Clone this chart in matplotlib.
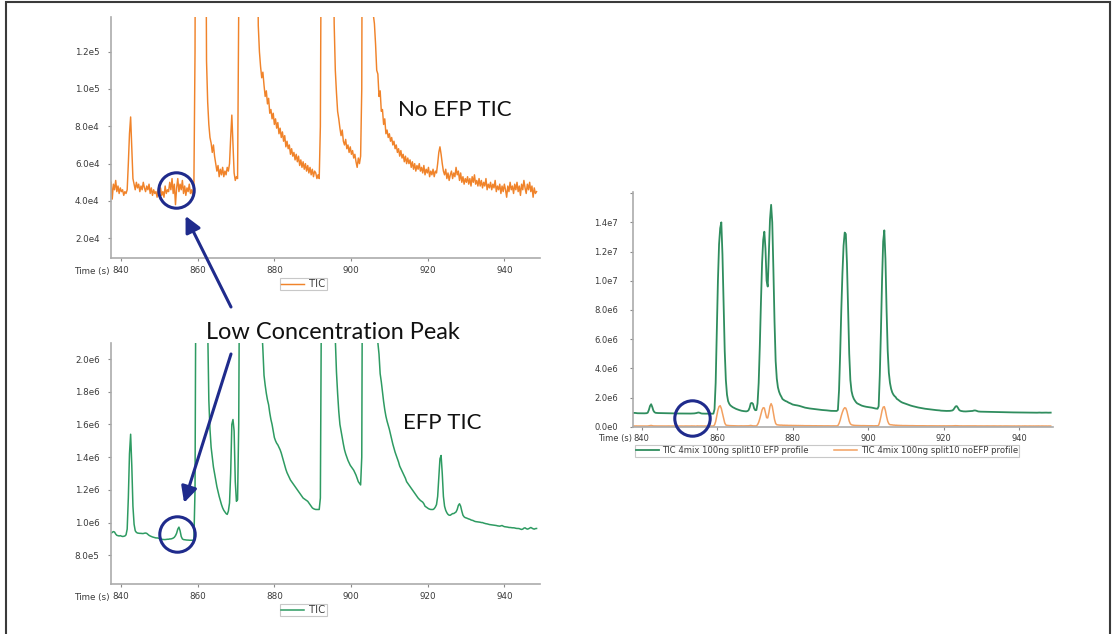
import numpy as np
import matplotlib
matplotlib.use("Agg")
import matplotlib.pyplot as plt
from matplotlib.transforms import ScaledTranslation
from matplotlib.patches import Rectangle

# ---------------- data ----------------
scan_start_s = 837.4
scan_step_s = 0.3

# EFP TIC, in units of 1e5 counts (one row = 3 s)
efp_tic_1e5 = [
    9.35, 9.40, 9.45, 9.42, 9.30, 9.22, 9.20, 9.18, 9.20, 9.17,
    9.15, 9.16, 9.18, 9.25, 9.60, 11.5, 14.2, 15.4, 13.5, 11.0,
    9.90, 9.50, 9.40, 9.36, 9.35, 9.34, 9.34, 9.33, 9.33, 9.35,
    9.36, 9.34, 9.28, 9.22, 9.18, 9.15, 9.12, 9.10, 9.08, 9.06,
    9.06, 9.05, 9.02, 9.00, 8.98, 8.97, 8.96, 8.96, 8.97, 8.98,
    8.98, 9.00, 9.00, 9.02, 9.05, 9.10, 9.20, 9.35, 9.60, 9.72,
    9.50, 9.15, 9.00, 8.96, 8.95, 8.94, 8.93, 8.93, 8.92, 8.92,
    8.92, 8.92, 8.95, 12.0, 30.0, 65.0, 100.0, 125.0, 136.0, 140.0,
    118.0, 85.0, 52.0, 32.0, 22.0, 17.5, 15.7, 14.6, 14.0, 13.4,
    13.0, 12.6, 12.2, 11.9, 11.6, 11.35, 11.1, 10.9, 10.75, 10.65,
    10.55, 10.50, 10.70, 11.2, 13.0, 16.0, 16.3, 15.6, 12.5, 11.3,
    11.4, 16.0, 30.0, 55.0, 85.0, 112.0, 128.0, 133.6, 122.0, 100.0,
    96.0, 118.0, 142.0, 152.0, 140.0, 108.0, 72.0, 45.0, 33.0, 27.0,
    24.0, 22.0, 20.6, 19.0, 18.4, 17.9, 17.5, 17.2, 16.7, 16.3,
    16.0, 15.6, 15.2, 15.0, 14.85, 14.75, 14.6, 14.45, 14.25, 14.0,
    13.75, 13.5, 13.25, 13.05, 12.9, 12.75, 12.6, 12.5, 12.4, 12.3,
    12.2, 12.1, 12.0, 11.9, 11.8, 11.7, 11.6, 11.5, 11.45, 11.4,
    11.35, 11.3, 11.2, 11.1, 11.0, 10.9, 10.85, 10.82, 10.8, 10.8,
    10.8, 10.8, 11.5, 25.0, 50.0, 80.0, 105.0, 124.0, 133.0, 132.0,
    112.0, 80.0, 50.0, 32.0, 24.5, 21.2, 19.2, 17.9, 16.8, 16.0,
    15.6, 15.2, 14.8, 14.45, 14.2, 14.0, 13.8, 13.65, 13.5, 13.4,
    13.3, 13.2, 13.05, 12.9, 12.7, 12.5, 12.4, 12.3, 14.0, 35.0,
    65.0, 100.0, 127.0, 134.5, 115.0, 80.0, 52.0, 37.0, 30.0, 26.0,
    23.5, 22.0, 21.0, 20.3, 19.1, 18.6, 18.0, 17.4, 16.9, 16.5,
    16.2, 15.95, 15.7, 15.4, 15.1, 14.8, 14.55, 14.3, 14.1, 13.9,
    13.7, 13.45, 13.3, 13.15, 13.0, 12.85, 12.7, 12.5, 12.4, 12.3,
    12.2, 12.1, 12.0, 11.9, 11.8, 11.7, 11.6, 11.5, 11.42, 11.35,
    11.3, 11.25, 11.15, 11.0, 10.95, 10.9, 10.85, 10.82, 10.8, 10.8,
    10.8, 10.85, 10.95, 11.1, 11.6, 12.8, 13.9, 14.1, 13.0, 11.6,
    11.0, 10.75, 10.6, 10.5, 10.45, 10.45, 10.5, 10.55, 10.55, 10.6,
    10.65, 10.8, 11.05, 11.15, 11.0, 10.7, 10.45, 10.35, 10.3, 10.28,
    10.25, 10.22, 10.2, 10.16, 10.14, 10.12, 10.08, 10.06, 10.05, 10.04,
    10.03, 10.02, 10.0, 10.0, 9.97, 9.95, 9.93, 9.92, 9.9, 9.88,
    9.87, 9.86, 9.85, 9.84, 9.83, 9.82, 9.8, 9.79, 9.78, 9.8,
    9.82, 9.78, 9.75, 9.74, 9.73, 9.72, 9.7, 9.7, 9.69, 9.68,
    9.68, 9.67, 9.65, 9.64, 9.64, 9.63, 9.6, 9.58, 9.6, 9.66,
    9.68, 9.63, 9.6, 9.62, 9.66, 9.7, 9.66, 9.62, 9.6, 9.63,
    9.64,
]

# No-EFP TIC, in units of 1e4 counts (one row = 3 s)
noefp_tic_1e4 = [
    5.0, 4.1, 4.9, 4.6, 5.1, 4.5, 4.8, 4.4, 4.7, 4.5,
    4.6, 4.3, 4.5, 4.4, 4.6, 6.0, 7.6, 8.5, 6.8, 5.2,
    4.9, 4.6, 5.0, 4.7, 4.9, 4.5, 4.8, 4.6, 5.0, 4.7,
    4.5, 4.8, 4.6, 4.9, 4.4, 4.7, 4.3, 4.6, 4.4, 4.5,
    4.2, 4.6, 4.4, 4.7, 4.3, 4.5, 4.2, 4.8, 4.4, 4.6,
    4.5, 5.0, 4.6, 5.2, 4.4, 4.9, 3.8, 4.7, 5.2, 4.5,
    4.9, 4.6, 5.1, 4.4, 4.8, 4.3, 4.7, 4.5, 4.9, 4.4,
    4.6, 4.3, 4.8, 12.0, 35.0, 75.0, 115.0, 138.0, 144.0, 125.0,
    92.0, 56.0, 26.0, 11.5, 9.3, 8.1, 7.4, 7.1, 6.6, 7.0,
    6.4, 6.0, 5.6, 5.9, 5.3, 5.7, 5.4, 5.8, 5.3, 5.6,
    5.4, 5.8, 5.6, 6.0, 7.4, 8.6, 7.0, 5.5, 5.1, 5.3,
    5.2, 14.0, 30.0, 55.0, 85.0, 115.0, 130.0, 128.0, 95.0, 62.0,
    60.0, 95.0, 140.0, 158.0, 140.0, 95.0, 50.0, 22.0, 13.4, 12.0,
    11.2, 10.6, 10.9, 10.2, 9.6, 9.9, 9.2, 9.5, 8.7, 8.9,
    8.4, 8.7, 8.1, 8.4, 7.9, 8.2, 7.6, 7.9, 7.4, 7.7,
    7.2, 7.5, 6.9, 7.2, 6.8, 7.0, 6.5, 6.8, 6.4, 6.6,
    6.2, 6.5, 6.1, 6.4, 5.9, 6.2, 5.8, 6.1, 5.7, 6.0,
    5.6, 5.9, 5.5, 5.8, 5.4, 5.7, 5.3, 5.6, 5.5, 5.2,
    5.4, 5.2, 8.0, 22.0, 45.0, 75.0, 100.0, 120.0, 130.0, 127.0,
    105.0, 70.0, 38.0, 20.0, 13.5, 11.0, 9.8, 8.8, 8.4, 7.9,
    7.5, 7.8, 7.2, 7.0, 7.3, 6.8, 7.0, 6.6, 6.9, 6.5,
    6.7, 6.3, 6.5, 6.1, 5.8, 6.3, 6.0, 6.4, 10.0, 35.0,
    70.0, 110.0, 134.0, 137.0, 110.0, 70.0, 38.0, 20.0, 14.0, 13.5,
    12.4, 11.0, 10.8, 9.6, 9.9, 8.8, 8.9, 8.1, 8.4, 7.6,
    7.8, 7.4, 7.6, 7.2, 7.4, 7.0, 7.2, 6.8, 7.0, 6.6,
    6.8, 6.4, 6.7, 6.3, 6.5, 6.1, 6.4, 6.0, 6.3, 6.0,
    6.2, 5.8, 6.1, 5.7, 6.0, 5.6, 5.9, 5.7, 6.0, 5.6,
    5.8, 5.5, 5.9, 5.4, 5.7, 5.5, 5.8, 5.3, 5.6, 5.4,
    5.7, 5.3, 5.6, 5.5, 6.0, 6.6, 6.9, 6.5, 6.0, 5.6,
    5.4, 5.7, 5.2, 5.5, 5.1, 5.4, 5.6, 5.2, 5.5, 5.3,
    5.8, 5.4, 5.6, 5.1, 5.5, 5.0, 5.3, 4.9, 5.2, 5.0,
    5.3, 4.9, 5.2, 4.8, 5.3, 5.0, 5.4, 4.9, 5.1, 4.8,
    5.2, 4.8, 5.1, 4.7, 5.0, 4.8, 5.2, 4.6, 4.9, 4.7,
    5.0, 4.6, 4.9, 4.7, 5.1, 4.5, 4.8, 4.6, 4.9, 4.4,
    4.8, 4.5, 4.9, 4.6, 4.2, 4.8, 4.5, 5.0, 4.6, 4.8,
    4.4, 4.9, 4.6, 5.0, 4.5, 4.8, 4.3, 4.9, 4.6, 5.1,
    4.7, 4.4, 4.9, 4.6, 5.0, 4.5, 4.8, 4.2, 4.7, 4.4,
    4.5,
]

x_ticks = [840, 860, 880, 900, 920, 940]
top_y_ticks = [2.0e4, 4.0e4, 6.0e4, 8.0e4, 1.0e5, 1.2e5]
bottom_y_ticks = [8.0e5, 1.0e6, 1.2e6, 1.4e6, 1.6e6, 1.8e6, 2.0e6]
right_y_ticks = [0.0, 2.0e6, 4.0e6, 6.0e6, 8.0e6, 1.0e7, 1.2e7, 1.4e7, 1.6e7]
left_legend_label = "TIC"
right_legend_labels = ["TIC 4mix 100ng split10 EFP profile",
                       "TIC 4mix 100ng split10 noEFP profile"]
low_peak_time = [854.35, 854.48, 853.46]        # circled low-concentration peak (per panel)
low_peak_level = [4.574e4, 9.284e5, 5.75e5]

assert len(efp_tic_1e5) == len(noefp_tic_1e4)
efp = np.array(efp_tic_1e5) * 1e5
noefp = np.array(noefp_tic_1e4) * 1e4
t = scan_start_s + scan_step_s * np.arange(len(efp))

# ---------------- figure ----------------
W, H = 1112, 634
fig = plt.figure(figsize=(W / 100, H / 100), dpi=100)
fig.patch.set_facecolor("white")

NAVY = "#1f2b8c"
ORANGE = "#f0832a"
GREEN = "#2e9b62"
R_GREEN = "#2f8d5e"
R_ORANGE = "#f2a060"


def px_rect(l, t_, r, b):
    return [l / W, 1 - b / H, (r - l) / W, (b - t_) / H]


def sci(v):
    if v == 0:
        return "0.0e0"
    e = int(np.floor(np.log10(abs(v)) + 1e-9))
    return f"{v / 10 ** e:.1f}e{e}"


def style(ax, xlim, ylim, yticks, fs, ypad, xpad, time_dy, hide_last=False):
    ax.set_facecolor("none")
    ax.set_xlim(*xlim)
    ax.set_ylim(*ylim)
    for s in ("top", "right"):
        ax.spines[s].set_visible(False)
    for s in ("left", "bottom"):
        ax.spines[s].set_color("#ababab")
        ax.spines[s].set_linewidth(1.2)
    ax.set_xticks(x_ticks)
    ax.set_xticklabels([str(v) for v in x_ticks])
    ax.set_yticks(yticks)
    labels = [sci(v) for v in yticks]
    if hide_last:
        labels[-1] = ""
    ax.set_yticklabels(labels)
    ax.tick_params(direction="out", length=2.5, width=0.8, color="#8a8a8a",
                   labelcolor="#3a3a3a", labelsize=fs)
    ax.tick_params(axis="y", pad=ypad)
    ax.tick_params(axis="x", pad=xpad)
    off = ScaledTranslation(-1.5 / 100, -time_dy / 100, fig.dpi_scale_trans)
    ax.text(0, 0, "Time (s)", transform=ax.transAxes + off, ha="right",
            va="center", fontsize=fs, color="#3a3a3a")


# top-left: no EFP
ax1 = fig.add_axes(px_rect(110.7, 17.3, 540, 258.3))
ax1.plot(t, noefp, color=ORANGE, lw=1.05, label=left_legend_label)
style(ax1, (837.3, 949.3), (0.928e4, 1.384e5), top_y_ticks, 6.3, 5.5, 3.2, 13.4)

# bottom-left: EFP
ax2 = fig.add_axes(px_rect(110.7, 343.3, 540, 584.3))
ax2.plot(t, efp, color=GREEN, lw=1.1, label=left_legend_label)
style(ax2, (837.3, 949.3), (6.226e5, 2.096e6), bottom_y_ticks, 6.3, 5.5, 3.2, 13.4)

# right: both at full scale
ax3 = fig.add_axes(px_rect(633.3, 191.7, 1053.3, 426.7))
ax3.plot(t, efp, color=R_GREEN, lw=1.3, label=right_legend_labels[0])
ax3.plot(t, noefp, color=R_ORANGE, lw=1.1, label=right_legend_labels[1])
style(ax3, (837.77, 949.09), (0, 1.61e7), right_y_ticks, 6.0, 8.5, 2.6, 11.6,
      hide_last=True)

# legends
for ax, top_px in ((ax1, 278), (ax2, 604)):
    leg = ax.legend(loc="upper left", bbox_to_anchor=(280 / W, 1 - top_px / H),
                    bbox_transform=fig.transFigure, borderaxespad=0, fontsize=7.3,
                    frameon=True, fancybox=False, edgecolor="#c8c8c8",
                    framealpha=1, borderpad=0.12, handlelength=2.2,
                    handletextpad=0.55, labelcolor="#3a3a3a")
    leg.get_frame().set_linewidth(0.8)

leg3 = ax3.legend(loc="upper left", bbox_to_anchor=(635 / W, 1 - 445 / H),
                  bbox_transform=fig.transFigure, borderaxespad=0, fontsize=6.1,
                  ncol=2, frameon=True, fancybox=False, edgecolor="#c8c8c8",
                  framealpha=1, borderpad=0.15, handlelength=2.7,
                  handletextpad=0.4, columnspacing=3.0, labelcolor="#3a3a3a")
leg3.get_frame().set_linewidth(0.8)

# circles around the low-concentration peak
for ax, tx, lv in zip((ax1, ax2, ax3), low_peak_time, low_peak_level):
    ax.plot([tx], [lv], marker="o", ms=25.5, mfc="none", mec=NAVY, mew=2.2,
            clip_on=False, zorder=6)

# arrows from the label to the circled peaks
arrow_kw = dict(arrowstyle="-|>,head_length=0.6,head_width=0.3",
                mutation_scale=16, color=NAVY, lw=2.2, shrinkA=0, shrinkB=0)
ax1.annotate("", xy=(856.83, 3.196e4), xycoords="data", xytext=(231, H - 307),
             textcoords="figure pixels", arrowprops=arrow_kw,
             annotation_clip=False, zorder=7)
ax2.annotate("", xy=(856.44, 1.121e6), xycoords="data", xytext=(231, H - 354),
             textcoords="figure pixels", arrowprops=arrow_kw,
             annotation_clip=False, zorder=7)

# text labels
txt_kw = dict(fontfamily="Lato", color="#111111", va="baseline", ha="left")
fig.text(398 / W, 1 - 116 / H, "No EFP TIC", fontsize=16, **txt_kw)
fig.text(403 / W, 1 - 429.3 / H, "EFP TIC", fontsize=16, **txt_kw)
fig.text(206 / W, 1 - 339.3 / H, "Low Concentration Peak", fontsize=16.9, **txt_kw)

# outer frame
fig.add_artist(Rectangle((5.5 / W, -0.02), 1104 / W, 632.2 / H + 0.02,
                         transform=fig.transFigure, fill=False,
                         edgecolor="#3a3a3a", lw=1.5))

fig.savefig("out.png", dpi=100)
